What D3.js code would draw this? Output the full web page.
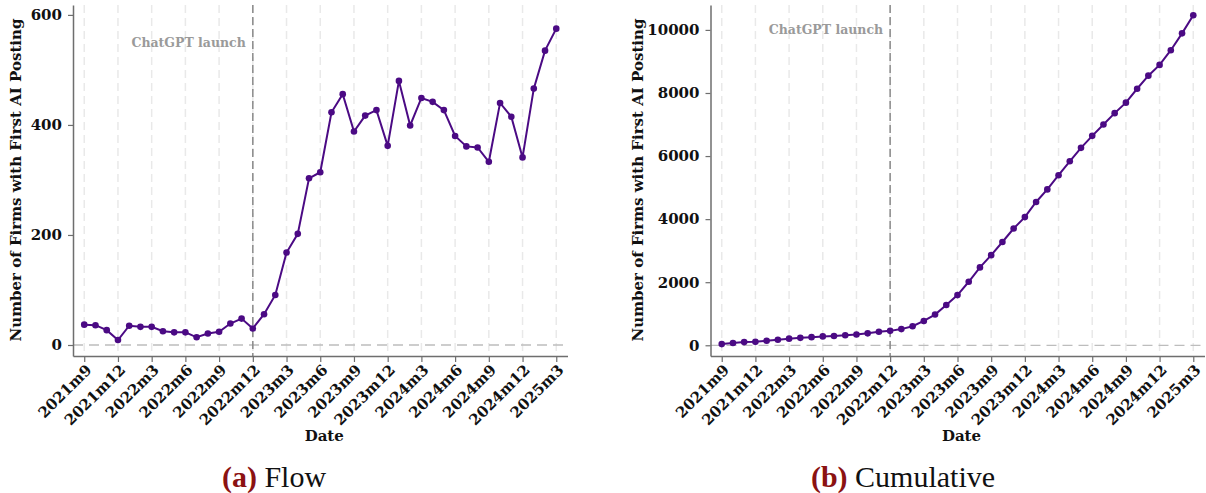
<!DOCTYPE html>
<html>
<head>
<meta charset="utf-8">
<script src="https://cdn.jsdelivr.net/npm/d3@7"></script>
<style>
  body { margin: 0; background: #fff; }
  svg { display: block; }
  .serif { font-family: "DejaVu Serif"; font-weight: bold; }
</style>
</head>
<body>
<svg id="chart" width="1206" height="493"></svg>
<script>
// months from 2021m9 to 2025m3
const months = [
  "2021m9", "2021m10", "2021m11", "2021m12",
  "2022m1", "2022m2", "2022m3", "2022m4", "2022m5", "2022m6",
  "2022m7", "2022m8", "2022m9", "2022m10", "2022m11", "2022m12",
  "2023m1", "2023m2", "2023m3", "2023m4", "2023m5", "2023m6",
  "2023m7", "2023m8", "2023m9", "2023m10", "2023m11", "2023m12",
  "2024m1", "2024m2", "2024m3", "2024m4", "2024m5", "2024m6",
  "2024m7", "2024m8", "2024m9", "2024m10", "2024m11", "2024m12",
  "2025m1", "2025m2", "2025m3",
];

// firms with first AI posting, per month
const flow = [
  37, 36, 27, 9,
  35, 33, 33, 25, 23, 23, 14, 21, 24, 39, 48, 30,
  56, 91, 168, 202, 303, 314, 423, 456, 388, 417, 427, 362,
  480, 399, 449, 442, 427, 380, 361, 359, 333, 440, 415, 341,
  466, 535, 575,
];

// running total
const cumulative = [
  37, 73, 100, 109,
  144, 177, 210, 235, 258, 281, 295, 316, 340, 379, 427, 457,
  513, 604, 772, 974, 1277, 1591, 2014, 2470, 2858, 3275, 3702, 4064,
  4544, 4943, 5392, 5834, 6261, 6641, 7002, 7361, 7694, 8134, 8549, 8890,
  9356, 9891, 10466,
];

const xTickLabels = [
  "2021m9", "2021m12", "2022m3", "2022m6", "2022m9", "2022m12",
  "2023m3", "2023m6", "2023m9", "2023m12", "2024m3", "2024m6",
  "2024m9", "2024m12", "2025m3",
];
const flowTicks = [0, 200, 400, 600];
const cumTicks = [0, 2000, 4000, 6000, 8000, 10000];
const launchMonth = "2022m12";

const svg = d3.select("#chart");
const lineColor = "#4b0a84";

function panel(opts) {
  const g = svg.append("g");
  const x = d3.scaleLinear().domain([-1, months.length]).range(opts.xRange);
  const y = d3.scaleLinear().domain(opts.yDomain).range([356, 5]);
  const [x0, x1] = x.range();

  // vertical dashed grid at each labelled month
  g.append("g")
    .selectAll("line")
    .data(xTickLabels)
    .join("line")
    .attr("x1", (d) => x(months.indexOf(d)))
    .attr("x2", (d) => x(months.indexOf(d)))
    .attr("y1", 5)
    .attr("y2", 356)
    .attr("stroke", "#e9e9e9")
    .attr("stroke-width", 1.5)
    .attr("stroke-dasharray", "8,5");

  // zero reference line
  g.append("line")
    .attr("x1", x0)
    .attr("x2", x1)
    .attr("y1", y(0))
    .attr("y2", y(0))
    .attr("stroke", "#bdbdbd")
    .attr("stroke-width", 1.3)
    .attr("stroke-dasharray", "10,6");

  // ChatGPT launch marker
  const lx = x(months.indexOf(launchMonth));
  g.append("line")
    .attr("x1", lx)
    .attr("x2", lx)
    .attr("y1", 5)
    .attr("y2", 356)
    .attr("stroke", "#8a8a8a")
    .attr("stroke-width", 1.5)
    .attr("stroke-dasharray", "8,4");
  g.append("text")
    .attr("class", "serif")
    .attr("x", lx - 7)
    .attr("y", y(opts.labelAt))
    .attr("dy", "0.35em")
    .attr("text-anchor", "end")
    .attr("font-size", 12.5)
    .attr("fill", "#9a9a9a")
    .text("ChatGPT launch");

  // axes
  const xAxis = g
    .append("g")
    .attr("transform", "translate(0,356)")
    .call(
      d3
        .axisBottom(x)
        .tickValues(xTickLabels.map((d) => months.indexOf(d)))
        .tickFormat((i) => months[i])
        .tickSizeInner(6)
        .tickSizeOuter(0),
    );
  xAxis.selectAll(".tick text")
    .attr("class", "serif")
    .attr("font-size", 15)
    .attr("fill", "#111")
    .attr("text-anchor", "end")
    .attr("dy", null)
    .attr("y", null)
    .attr("transform", "translate(5,12) rotate(-45)")
    .attr("dominant-baseline", "middle");

  const yAxis = g
    .append("g")
    .attr("transform", `translate(${x0},0)`)
    .call(
      d3
        .axisLeft(y)
        .tickValues(opts.yTicks)
        .tickFormat(d3.format("d"))
        .tickSizeInner(5)
        .tickSizeOuter(0)
        .tickPadding(6),
    );
  yAxis.selectAll(".tick text").attr("class", "serif").attr("font-size", 15).attr("fill", "#111");

  [xAxis, yAxis].forEach((a) => {
    a.select(".domain").attr("stroke", "#6e6e6e").attr("stroke-width", 1.5);
    a.selectAll(".tick line").attr("stroke", "#6e6e6e").attr("stroke-width", 1.2);
  });

  // axis titles
  g.append("text")
    .attr("class", "serif")
    .attr("x", (x0 + x1) / 2 + 4)
    .attr("y", 441)
    .attr("text-anchor", "middle")
    .attr("font-size", 15)
    .attr("fill", "#111")
    .text("Date");
  g.append("text")
    .attr("class", "serif")
    .attr("transform", `translate(${x0 - opts.titleGap},180) rotate(-90)`)
    .attr("text-anchor", "middle")
    .attr("font-size", 15)
    .attr("fill", "#111")
    .text("Number of Firms with First AI Posting");

  // series
  const line = d3
    .line()
    .x((d, i) => x(i))
    .y((d) => y(d));
  g.append("path")
    .datum(opts.values)
    .attr("d", line)
    .attr("fill", "none")
    .attr("stroke", lineColor)
    .attr("stroke-width", 2);
  g.append("g")
    .selectAll("circle")
    .data(opts.values)
    .join("circle")
    .attr("cx", (d, i) => x(i))
    .attr("cy", (d) => y(d))
    .attr("r", 3.3)
    .attr("fill", lineColor);

  // caption
  const cap = svg
    .append("text")
    .attr("x", opts.captionX)
    .attr("y", 487)
    .attr("text-anchor", "middle")
    .attr("font-family", "Liberation Serif, serif")
    .attr("font-size", 30);
  cap.append("tspan").attr("fill", "#8b1212").attr("font-weight", "bold").text(opts.tag);
  cap.append("tspan").attr("fill", "#111").text(" " + opts.caption);
}

panel({
  xRange: [73, 567.5],
  yDomain: [-20, 618],
  yTicks: flowTicks,
  values: flow,
  labelAt: 550,
  titleGap: 52,
  tag: "(a)",
  caption: "Flow",
  captionX: 274,
});

panel({
  xRange: [710.5, 1204.5],
  yDomain: [-340, 10790],
  yTicks: cumTicks,
  values: cumulative,
  labelAt: 10000,
  titleGap: 68,
  tag: "(b)",
  caption: "Cumulative",
  captionX: 903,
});
</script>
</body>
</html>
